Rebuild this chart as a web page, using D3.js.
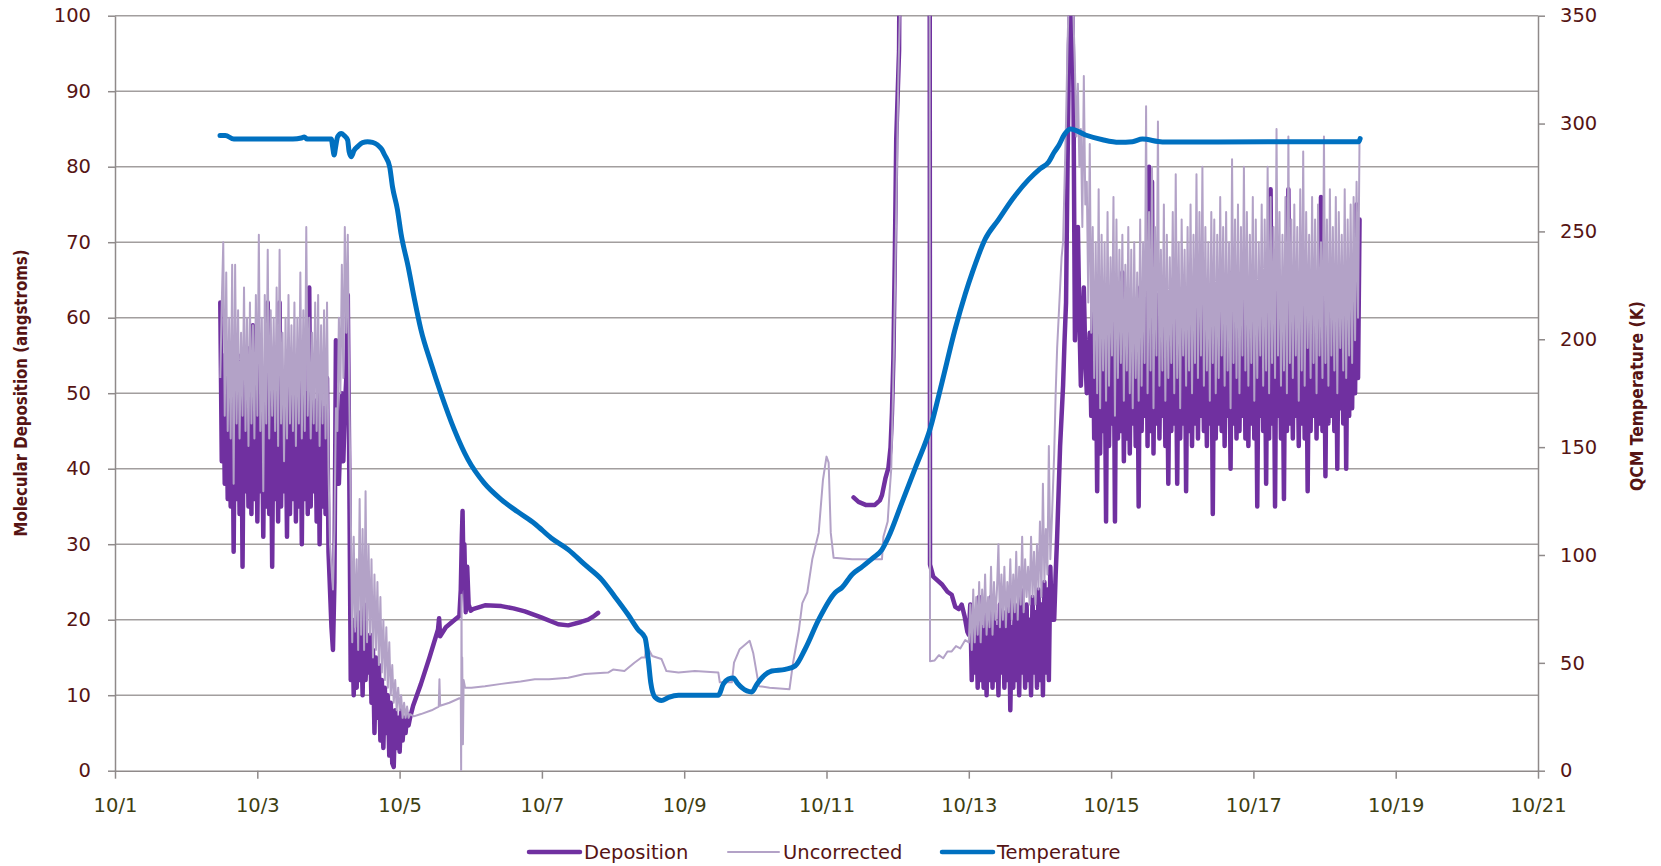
<!DOCTYPE html>
<html>
<head>
  <meta charset="utf-8">
  <title>QCM Molecular Deposition</title>
  <script src="https://d3js.org/d3.v7.min.js"></script>
  <style>
    body { margin: 0; background: #fff; }
    svg { display: block; }
  </style>
</head>
<body>
  <div id="chart"></div>

  <script>
    // ---- data ----
    // x = day of October (fractional), left axis in angstroms, right axis in K
    var xTickDays = [1, 3, 5, 7, 9, 11, 13, 15, 17, 19, 21];
    var xTickLabels = ["10/1", "10/3", "10/5", "10/7", "10/9", "10/11", "10/13", "10/15", "10/17", "10/19", "10/21"];
    var leftTicks = [0, 10, 20, 30, 40, 50, 60, 70, 80, 90, 100];
    var rightTicks = [0, 50, 100, 150, 200, 250, 300, 350];
    var seriesNames = ["Deposition", "Uncorrected", "Temperature"];

    // half-hourly readings in the stretches where the QCM swings hard
    var burstStarts = [2.48, 13.0, 14.2];
    var burstStep = 1 / 48;

    var depBurst1 = [62, 41, 55, 38, 52, 36, 50, 35, 54, 29, 53, 36, 51, 34, 55, 27, 52, 37, 50, 35,
      56, 34, 59, 36, 51, 33, 54, 37, 49, 31, 53, 35, 62, 34, 50, 27, 52, 36, 55, 33,
      62, 35, 51, 37, 49, 31, 53, 34, 50, 36, 54, 33, 51, 35, 52, 30, 55, 36, 50, 34,
      64, 35, 52, 37, 49, 33, 51, 30, 50, 35, 48, 34, 52, 29, 24, 19, 16, 25, 57, 40,
      38, 44, 50, 41, 48, 52, 63, 40, 12,
      20, 10, 18, 11, 21, 12, 19, 10, 22, 12, 17, 13, 18, 9, 16, 5, 15, 7, 14, 4,
      12, 3, 11, 5, 10, 2, 9, 1, 0.5, 8, 3, 7, 2.5, 8, 4, 7, 5, 7.5, 6, 7];
    var uncBurst1 = [52, 62, 70, 47, 66, 45, 60, 44, 67, 38, 67, 46, 61, 44, 58, 47, 64, 45, 60, 43,
      62, 46, 59, 44, 63, 47, 71, 45, 60, 37, 63, 46, 69, 44, 61, 47, 60, 45, 64, 43,
      69, 46, 58, 41, 60, 44, 63, 46, 59, 45, 62, 43, 60, 46, 66, 44, 61, 45, 72, 47,
      60, 44, 58, 46, 62, 45, 63, 43, 59, 46, 61, 44, 62, 40, 30, 27, 24, 32, 48, 45,
      60, 50, 67, 52, 72, 58, 71, 50, 35,
      17, 31, 19, 28, 16, 36, 18, 32, 16, 37, 17, 30, 18, 28, 15, 26, 16, 25, 14, 23,
      13, 20, 12, 19, 11, 17, 10, 14, 9, 12, 8, 11, 8, 10, 7, 9, 7, 8.5, 7, 7.5];

    var depBurst2 = [18, 22, 12, 21, 13, 20, 11, 23, 12, 19, 11, 22, 10, 20, 12, 23, 11, 21, 12, 19,
      10, 22, 13, 20, 11, 21, 12, 23, 8, 19, 11, 22, 12, 20, 10, 24, 13, 21, 11, 22,
      12, 20, 10, 23, 13, 21, 11, 24, 12, 22, 10, 25, 13, 24, 12, 27, 20];
    var uncBurst2 = [17, 22, 16, 24, 17, 23, 18, 25, 17, 24, 19, 26, 18, 23, 19, 27, 18, 25, 20, 24,
      30, 19, 26, 20, 27, 19, 25, 21, 28, 20, 26, 21, 29, 20, 27, 22, 31, 21, 28, 23,
      27, 22, 31, 23, 29, 22, 30, 24, 33, 23, 38, 25, 32, 26, 43, 28, 33];

    var depBurst3 = [20, 26, 31, 37, 43, 47, 51, 57, 62, 80, 96, 104, 104, 90, 57, 64, 72, 60, 51, 58,
      64, 55, 50, 54, 58, 47, 62, 44, 60, 37, 63, 42, 61, 45, 59, 33, 64, 43, 58, 46,
      65, 33, 62, 44, 60, 45, 66, 41, 58, 44, 63, 42, 61, 46, 59, 43, 62, 35, 64, 45,
      60, 47, 66, 43, 80, 45, 78, 42, 61, 46, 63, 44, 60, 47, 62, 43, 59, 38, 61, 45,
      64, 46, 60, 38, 62, 44, 59, 46, 63, 37, 61, 45, 64, 43, 60, 46, 65, 44, 61, 47,
      62, 45, 60, 43, 59, 46, 63, 34, 61, 44, 60, 46, 64, 45, 61, 43, 62, 47, 59, 40,
      66, 46, 61, 44, 63, 45, 60, 47, 65, 44, 62, 43, 60, 46, 64, 44, 61, 35, 59, 47,
      63, 45, 61, 38, 66, 44, 77, 46, 62, 35, 64, 47, 61, 44, 60, 36, 63, 45, 77, 46,
      61, 44, 63, 47, 60, 43, 64, 46, 66, 44, 62, 37, 60, 45, 63, 47, 61, 44, 64, 46,
      76, 45, 65, 39, 62, 46, 63, 47, 61, 45, 64, 40, 62, 48, 60, 46, 65, 40, 62, 47,
      64, 48, 66, 50, 75, 52, 73];
    var uncBurst3 = [42, 50, 56, 60, 64, 68, 70, 78, 86, 96, 104, 106, 105, 100, 93, 84, 91, 80, 85, 72,
      92, 75, 78, 62, 83, 58, 72, 52, 70, 50, 77, 48, 71, 53, 70, 49, 74, 51, 68, 55,
      76, 47, 73, 52, 69, 54, 71, 49, 67, 53, 72, 50, 69, 48, 70, 52, 66, 49, 73, 51,
      70, 54, 88, 50, 74, 53, 80, 48, 72, 55, 86, 51, 69, 53, 75, 49, 71, 52, 68, 54,
      74, 50, 79, 52, 70, 48, 73, 55, 69, 51, 72, 53, 75, 50, 71, 54, 79, 52, 74, 55,
      80, 51, 72, 53, 70, 49, 74, 54, 73, 50, 71, 52, 76, 55, 72, 51, 74, 53, 70, 48,
      81, 54, 73, 52, 75, 50, 72, 55, 80, 53, 74, 51, 71, 54, 76, 49, 73, 52, 70, 55,
      75, 51, 73, 53, 80, 50, 76, 54, 72, 52, 85, 55, 74, 51, 71, 53, 76, 50, 84, 54,
      73, 52, 75, 55, 72, 49, 77, 53, 82, 51, 74, 56, 71, 52, 76, 54, 73, 50, 75, 55,
      70, 52, 84, 54, 73, 51, 77, 55, 72, 53, 76, 50, 74, 56, 71, 53, 77, 52, 73, 55,
      75, 54, 76, 57, 78, 60, 84];

    // calmer stretches, [day, value]; null = no reading
    var depTrace = [[5.19, 8.6], [5.3, 11.5], [5.42, 15], [5.54, 18.7], [5.555, 20.2], [5.57, 17.8],
      [5.65, 19], [5.75, 19.8], [5.84, 20.5], [5.86, 24], [5.875, 31], [5.885, 34.4], [5.9, 25],
      [5.91, 30], [5.93, 21], [5.95, 27], [5.97, 22], [6.0, 21.2], [6.03, 21.4], [6.2, 21.9],
      [6.43, 21.8], [6.6, 21.5], [6.76, 21.1], [6.99, 20.3], [7.23, 19.4], [7.37, 19.25],
      [7.55, 19.7], [7.65, 20.0], [7.72, 20.4], [7.79, 20.9], [7.8, null],
      [11.38, 36.2], [11.45, 35.6], [11.55, 35.2], [11.68, 35.2], [11.75, 35.8], [11.78, 36.5],
      [11.83, 38.8], [11.87, 40.1], [11.9, 42.8], [11.92, 47.4], [11.94, 54.6], [11.96, 67.8],
      [11.97, 75.7], [11.98, 83.6], [12.02, 95.4], [12.03, 115], [12.45, 115], [12.455, 27.3],
      [12.5, 25.7], [12.62, 24.7], [12.7, 23.7], [12.76, 23.3], [12.81, 21.7], [12.86, 21.4],
      [12.9, 22], [12.94, 20.5], [12.98, 18.4]];

    var uncTrace = [[5.2, 7.2], [5.3, 7.5], [5.45, 8], [5.55, 8.5], [5.56, 12.1], [5.57, 8.6],
      [5.7, 9], [5.84, 9.6], [5.86, 9.5], [5.865, 0], [5.87, 23.3], [5.875, 10], [5.88, 15],
      [5.89, 3.5], [5.9, 12], [5.92, 11], [6.01, 11], [6.2, 11.2], [6.43, 11.5], [6.7, 11.8],
      [6.9, 12.1], [7.1, 12.1], [7.37, 12.3], [7.6, 12.8], [7.93, 13], [8.0, 13.4], [8.16, 13.2],
      [8.3, 14.3], [8.4, 15], [8.45, 15], [8.47, 17], [8.5, 16.1], [8.55, 15.2], [8.68, 14.8],
      [8.75, 13.2], [8.92, 13], [9.15, 13.2], [9.48, 13], [9.5, 11.7], [9.67, 11.7], [9.7, 14.3],
      [9.78, 16.1], [9.92, 17.2], [9.97, 15.6], [10.05, 11.2], [10.2, 11], [10.48, 10.8],
      [10.53, 14.3], [10.61, 18.5], [10.66, 22.2], [10.73, 23.6], [10.8, 28], [10.89, 31.5],
      [10.95, 38.5], [11.0, 41.6], [11.03, 40.8], [11.06, 31.5], [11.1, 28.2], [11.36, 28],
      [11.78, 28], [11.8, 31], [11.86, 33], [11.88, 36], [11.91, 40], [11.93, 48], [11.95, 57],
      [11.97, 68], [11.99, 80], [12.01, 92], [12.03, 100], [12.04, 115], [12.45, 115],
      [12.455, 14.5], [12.52, 14.6], [12.58, 15.3], [12.64, 14.9], [12.7, 15.8], [12.76, 15.8],
      [12.82, 16.5], [12.88, 16.2], [12.95, 17.3]];

    var tempTrace = [[2.476, 294.5], [2.55, 294.5], [2.67, 292.8], [3.5, 292.8], [3.62, 293.3],
      [3.66, 293.8], [3.7, 292.8], [4.04, 292.8], [4.06, 289], [4.08, 285.4], [4.1, 289],
      [4.13, 294], [4.18, 295.4], [4.22, 294.5], [4.27, 292.3], [4.29, 287], [4.32, 284.6],
      [4.36, 287.5], [4.41, 289.3], [4.48, 291.2], [4.55, 291.6], [4.62, 291.3], [4.69, 290.1],
      [4.75, 288], [4.79, 285.4], [4.86, 280], [4.9, 270.7], [4.97, 260], [5.02, 249],
      [5.12, 233.7], [5.21, 218.3], [5.3, 204.4], [5.44, 189], [5.58, 175], [5.77, 158],
      [5.96, 144.3], [6.19, 133.3], [6.43, 125.7], [6.66, 120], [6.9, 114.5], [7.13, 107.9],
      [7.37, 102.5], [7.6, 95.6], [7.84, 88.6], [8.02, 80.9], [8.21, 72.4], [8.35, 65.5],
      [8.45, 61.6], [8.5, 50], [8.53, 40.8], [8.59, 34], [8.68, 32.5], [8.78, 34], [8.92, 35],
      [9.48, 35], [9.55, 40.2], [9.62, 42.5], [9.69, 43], [9.75, 40.5], [9.81, 38.5],
      [9.95, 36.5], [10.02, 40], [10.09, 43], [10.23, 46.2], [10.42, 47], [10.56, 48.6],
      [10.7, 56.4], [10.89, 70], [11.12, 82.5], [11.22, 85], [11.36, 91], [11.5, 94.5],
      [11.65, 98.5], [11.78, 102.5], [11.87, 108.2], [12.06, 124.3], [12.25, 140.5],
      [12.46, 158.9], [12.62, 179.6], [12.81, 205], [12.95, 221], [13.05, 231], [13.23, 246.4],
      [13.42, 255.6], [13.61, 264.8], [13.84, 274], [14.0, 279], [14.12, 282.1], [14.2, 286.7],
      [14.27, 290.2], [14.34, 294.7], [14.43, 297.5], [14.64, 294.7], [14.88, 292.5],
      [15.11, 291.3], [15.3, 291.6], [15.44, 292.8], [15.72, 291.5], [16.5, 291.5],
      [18.48, 291.6], [18.5, 293]];

    // ---- build the series ----
    function burstPoints(start, values) {
      return values.map(function(v, i) { return [start + i * burstStep, v]; });
    }
    function byDay(a, b) { return a[0] - b[0]; }

    var depPoints = [].concat(burstPoints(burstStarts[0], depBurst1), depTrace,
      burstPoints(burstStarts[1], depBurst2), burstPoints(burstStarts[2], depBurst3)).sort(byDay);
    var uncPoints = [].concat(burstPoints(burstStarts[0], uncBurst1), uncTrace,
      burstPoints(burstStarts[1], uncBurst2), burstPoints(burstStarts[2], uncBurst3)).sort(byDay);

    // ---- layout ----
    var margin = {top: 15.7, right: 123, bottom: 95.3, left: 115},
        width = 1661 - margin.left - margin.right,
        height = 866 - margin.top - margin.bottom;

    var font = "'DejaVu Sans', Verdana, sans-serif";
    var labelRed = "#561414";
    var axisColor = "#8f8a8a";
    var gridColor = "#a29e9e";
    var colors = ["#7030a0", "#b3a2c7", "#0070c0"];
    var widths = [4.5, 2, 5];

    var svg = d3.select("#chart")
      .append("svg")
        .attr("width", 1661)
        .attr("height", 866);

    var g = svg.append("g")
      .attr("transform", "translate(" + margin.left + "," + margin.top + ")");

    var x = d3.scaleLinear().domain([1, 21]).range([0, width]);
    var yLeft = d3.scaleLinear().domain([0, 100]).range([height, 0]);
    var yRight = d3.scaleLinear().domain([0, 350]).range([height, 0]);

    // horizontal gridlines
    g.append("g")
      .selectAll("line")
      .data(leftTicks.filter(function(d) { return d > 0; }))
      .join("line")
        .attr("x1", 0)
        .attr("x2", width)
        .attr("y1", function(d) { return yLeft(d); })
        .attr("y2", function(d) { return yLeft(d); })
        .attr("stroke", gridColor)
        .attr("stroke-width", 1.5);

    // axes
    var leftAxis = g.append("g")
      .call(d3.axisLeft(yLeft).tickValues(leftTicks).tickSize(7).tickSizeOuter(0).tickPadding(17));
    var rightAxis = g.append("g")
      .attr("transform", "translate(" + width + ",0)")
      .call(d3.axisRight(yRight).tickValues(rightTicks).tickSize(7).tickSizeOuter(0).tickPadding(15));
    var bottomAxis = g.append("g")
      .attr("transform", "translate(0," + height + ")")
      .call(d3.axisBottom(x).tickValues(xTickDays)
        .tickFormat(function(d, i) { return xTickLabels[i]; })
        .tickSize(8).tickSizeOuter(0).tickPadding(19));

    [leftAxis, rightAxis, bottomAxis].forEach(function(a) {
      a.select(".domain").attr("stroke", axisColor).attr("stroke-width", 1.5);
      a.selectAll(".tick line").attr("stroke", axisColor).attr("stroke-width", 1.5);
      a.selectAll(".tick text")
        .attr("font-family", font)
        .attr("font-size", 19.5)
        .attr("fill", labelRed);
    });
    bottomAxis.selectAll(".tick text").attr("fill", "#3e3e12");

    // clip the data to the plot area
    svg.append("defs").append("clipPath")
      .attr("id", "plot-clip")
      .append("rect")
        .attr("x", 0)
        .attr("y", 0)
        .attr("width", width)
        .attr("height", height);

    var plot = g.append("g").attr("clip-path", "url(#plot-clip)");

    var lineLeft = d3.line()
      .defined(function(d) { return d[1] != null; })
      .x(function(d) { return x(d[0]); })
      .y(function(d) { return yLeft(d[1]); });

    var lineRight = d3.line()
      .curve(d3.curveMonotoneX)
      .x(function(d) { return x(d[0]); })
      .y(function(d) { return yRight(d[1]); });

    plot.append("path")
      .datum(depPoints)
      .attr("d", lineLeft)
      .attr("fill", "none")
      .attr("stroke", colors[0])
      .attr("stroke-width", widths[0])
      .attr("stroke-linejoin", "round")
      .attr("stroke-linecap", "round");

    plot.append("path")
      .datum(uncPoints)
      .attr("d", lineLeft)
      .attr("fill", "none")
      .attr("stroke", colors[1])
      .attr("stroke-width", widths[1])
      .attr("stroke-linejoin", "round");

    plot.append("path")
      .datum(tempTrace)
      .attr("d", lineRight)
      .attr("fill", "none")
      .attr("stroke", colors[2])
      .attr("stroke-width", widths[2])
      .attr("stroke-linejoin", "round")
      .attr("stroke-linecap", "round");

    // axis titles
    svg.append("text")
      .attr("transform", "translate(21,393) rotate(-90)")
      .attr("text-anchor", "middle")
      .attr("dominant-baseline", "central")
      .attr("font-family", "'Liberation Sans Narrow', 'DejaVu Sans Condensed', 'Liberation Sans', sans-serif")
      .attr("font-weight", "bold")
      .attr("font-size", 17.5)
      .attr("textLength", 287)
      .attr("lengthAdjust", "spacingAndGlyphs")
      .attr("fill", labelRed)
      .text("Molecular Deposition (angstroms)");

    svg.append("text")
      .attr("transform", "translate(1637,396) rotate(-90)")
      .attr("text-anchor", "middle")
      .attr("dominant-baseline", "central")
      .attr("font-family", "'Liberation Sans Narrow', 'DejaVu Sans Condensed', 'Liberation Sans', sans-serif")
      .attr("font-weight", "bold")
      .attr("font-size", 17.5)
      .attr("textLength", 190)
      .attr("lengthAdjust", "spacingAndGlyphs")
      .attr("fill", labelRed)
      .text("QCM Temperature (K)");

    // legend
    var legendX = [529, 728, 942];
    var legend = svg.append("g")
      .selectAll("g")
      .data(seriesNames)
      .join("g")
        .attr("transform", function(d, i) { return "translate(" + legendX[i] + ",852)"; });

    legend.append("line")
      .attr("x1", 0)
      .attr("x2", 51)
      .attr("stroke", function(d, i) { return colors[i]; })
      .attr("stroke-width", function(d, i) { return i === 1 ? 2 : 4.5; })
      .attr("stroke-linecap", "round");

    legend.append("text")
      .attr("x", 55)
      .attr("dominant-baseline", "central")
      .attr("font-family", font)
      .attr("font-size", 19.5)
      .attr("fill", labelRed)
      .text(function(d) { return d; });
  </script>
</body>
</html>
